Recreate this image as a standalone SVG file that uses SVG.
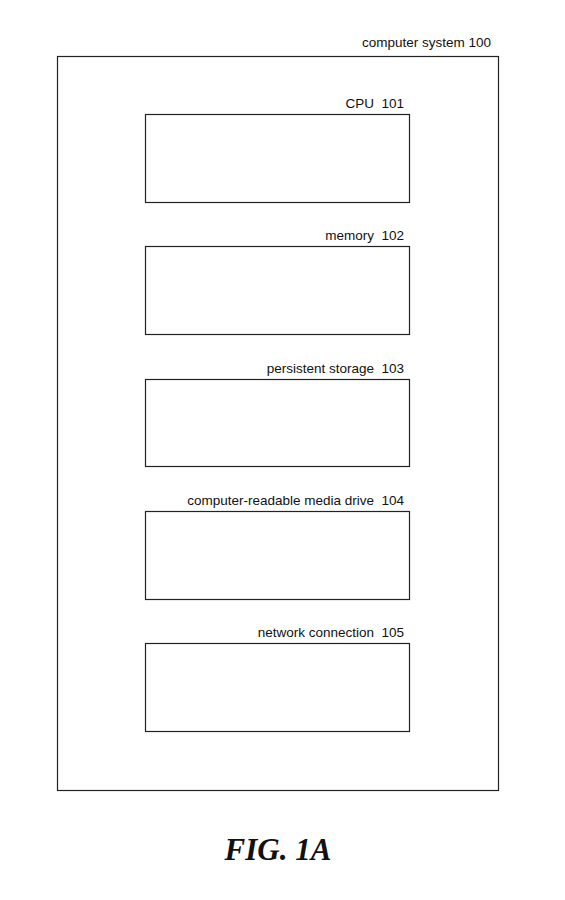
<svg xmlns="http://www.w3.org/2000/svg" width="565" height="900" viewBox="0 0 565 900">
<style>
.box{fill:#fff;stroke:#222;stroke-width:1.2}
.lbl{font-family:"Liberation Sans",Arial,sans-serif;font-size:13.5px;fill:#111;text-anchor:end;white-space:pre}
.fig{font-family:"Liberation Serif","Times New Roman",serif;font-size:31px;font-weight:bold;font-style:italic;fill:#111;text-anchor:middle}
</style>
<rect width="565" height="900" fill="#fff"/>
<g id="system100">
<rect class="box" x="57.5" y="56.5" width="441" height="734"/>
<text class="lbl" x="491" y="47" xml:space="preserve">computer system 100</text>
</g>
<g id="cpu101">
<rect class="box" x="145.5" y="114.5" width="264" height="88"/>
<text class="lbl" x="404" y="108" xml:space="preserve">CPU  101</text>
</g>
<g id="memory102">
<rect class="box" x="145.5" y="246.5" width="264" height="88"/>
<text class="lbl" x="404" y="240" xml:space="preserve">memory  102</text>
</g>
<g id="storage103">
<rect class="box" x="145.5" y="379.5" width="264" height="87"/>
<text class="lbl" x="404" y="373" xml:space="preserve">persistent storage  103</text>
</g>
<g id="media104">
<rect class="box" x="145.5" y="511.5" width="264" height="88"/>
<text class="lbl" x="404" y="505" xml:space="preserve">computer-readable media drive  104</text>
</g>
<g id="network105">
<rect class="box" x="145.5" y="643.5" width="264" height="88"/>
<text class="lbl" x="404" y="637" xml:space="preserve">network connection  105</text>
</g>
<g id="connectors"/>
<text class="fig" x="278" y="860">FIG. 1A</text>
</svg>
